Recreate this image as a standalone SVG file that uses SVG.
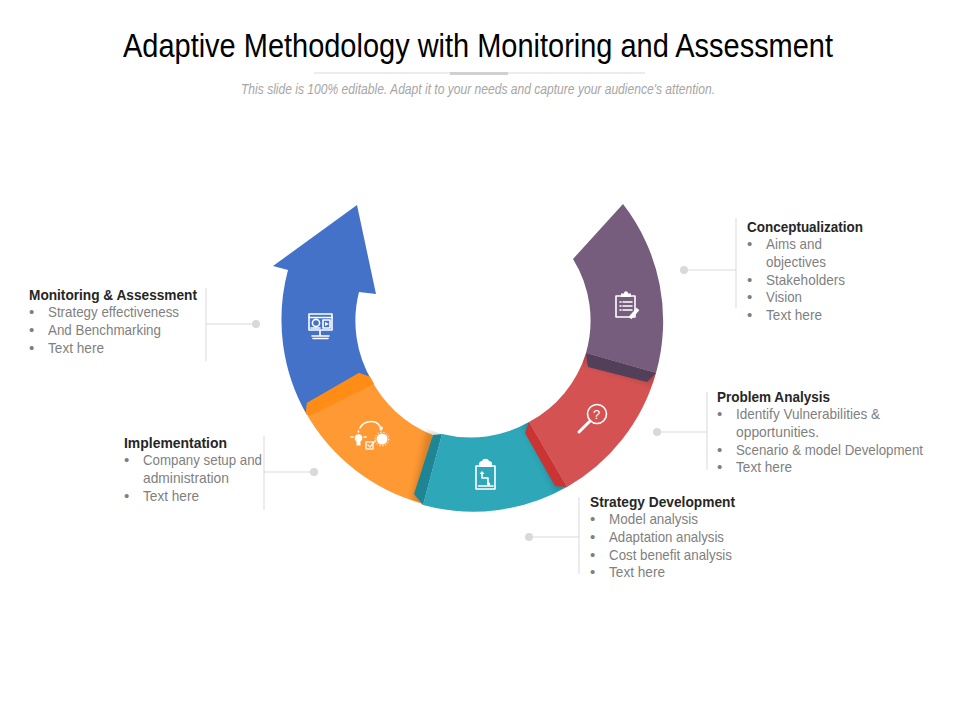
<svg xmlns="http://www.w3.org/2000/svg" width="960" height="720" viewBox="0 0 960 720">
<style>
text{font-family:"Liberation Sans",Arial,sans-serif;font-size:15px;fill:#7f7f7f}
.h{font-weight:bold;fill:#262626}
.ln{stroke:#d9d9d9;stroke-width:1;fill:none}
.dot{fill:#d9d9d9}
.ic{fill:none;stroke:#fff;stroke-width:1.6;stroke-linecap:round;stroke-linejoin:round}
.icf{fill:#fff}
.sh{fill:#000;opacity:.16;filter:url(#blur)}
</style>
<defs>
<filter id="blur" x="-30%" y="-30%" width="160%" height="160%"><feGaussianBlur stdDeviation="3"/></filter>
<clipPath id="cpRed"><path d="M586 353L656 373A191 191 0 0 1 565 487L529 422A117 117 0 0 0 586 353Z"/></clipPath>
<clipPath id="cpTeal"><path d="M442 434A117 117 0 0 0 529 422L565 487A191 191 0 0 1 423 505Z"/></clipPath>
<clipPath id="cpOrange"><path d="M370 377A117 117 0 0 0 442 434L423 505A191 191 0 0 1 306 413Z"/></clipPath>
</defs>
<rect width="960" height="720" fill="#fff"/>

<g id="header">
<text x="123" y="56.500" textLength="710" lengthAdjust="spacingAndGlyphs" style="font-size:33px;fill:#000">Adaptive Methodology with Monitoring and Assessment</text>
<line x1="314" y1="73" x2="645" y2="73" class="ln"/>
<rect x="450" y="72" width="58" height="3" fill="#d0d0d0"/>
<text x="241" y="94" textLength="474" lengthAdjust="spacingAndGlyphs" style="font-size:14.500px;font-style:italic;fill:#a6a6a6">This slide is 100% editable. Adapt it to your needs and capture your audience's attention.</text>
</g>

<g id="connectors">
<path class="ln" d="M684 270H736M736 218V308"/><circle class="dot" cx="684" cy="270" r="4"/>
<path class="ln" d="M657 432H707M707 392V470"/><circle class="dot" cx="657" cy="432" r="4"/>
<path class="ln" d="M529 537H579M579 497V574"/><circle class="dot" cx="529" cy="537" r="4"/>
<path class="ln" d="M314 472H264M264 436V510"/><circle class="dot" cx="314" cy="472" r="4"/>
<path class="ln" d="M256 324H206M206 288V361"/><circle class="dot" cx="256" cy="324" r="4"/>
</g>

<g id="node-monitoring">
<path fill="#4472c9" d="M357 205L376 294L359 292A117 117 0 0 0 372 381L307 415A191 191 0 0 1 288 270L273 266Z"/>
<g>
<rect class="ic" x="309" y="314" width="23" height="16"/>
<path class="ic" d="M309 317.500H332" stroke-width="1"/>
<circle class="ic" cx="316" cy="323" r="3.600" stroke-width="1.100"/>
<path class="ic" d="M311 328H320" stroke-width="1"/>
<rect class="ic" x="323" y="320" width="7" height="8" stroke-width="1.100"/>
<path class="icf" d="M325 322L329 324L325 326Z"/>
<path class="ic" d="M320 331V335M312 336H329M313 338.500H328"/>
</g>
</g>

<g id="node-implementation">
<path fill="#ff9933" d="M370 377A117 117 0 0 0 433 435L423 505L421 503A191 191 0 0 1 306 413L307 403L359 373Z"/>
<path fill="#ff8c14" d="M359 373L370 377L374 384L309 416L306 413L307 403Z"/>
<g clip-path="url(#cpOrange)"><path class="sh" d="M427 430L445 434L424 508L412 500Z"/></g>
<g>
<path class="ic" d="M360 428C364 420 379 418 381 430" stroke-width="1.100"/>
<path class="icf" d="M383 429L379 430L382 426Z"/>
<circle class="icf" cx="358.500" cy="438" r="3.800"/>
<rect class="icf" x="356.500" y="441" width="4" height="4.500"/>
<path class="ic" d="M351 437H353M358.500 431V432M364 437H366" stroke-width="1"/>
<circle class="icf" cx="382" cy="439" r="5.500"/>
<circle cx="382" cy="439" r="6.800" fill="none" stroke="#fff" stroke-width="1" stroke-dasharray="1.500 1.500"/>
<rect class="ic" x="366" y="442" width="7" height="7" stroke-width=".8" opacity=".8"/>
<path class="ic" d="M368 445L370 447L375 441" stroke-width=".8" opacity=".8"/>
</g>
</g>

<g id="node-strategy">
<path fill="#2ea7b8" d="M442 434A117 117 0 0 0 529 422L567 487A191 191 0 0 1 423 505Z"/>
<path fill="#1e8594" d="M433 435L442 434L423 505L414 494Z"/>
<g clip-path="url(#cpTeal)"><path class="sh" d="M521 420L535 420L572 490L556 492Z"/></g>
<g>
<rect class="ic" x="476" y="466" width="19" height="23"/>
<path class="ic" d="M478.500 486H493" stroke-width="1"/>
<path class="icf" d="M479 467V463.500C479 462 481 461 482 461C483 458 488 458 489 461C491 461 492 462 492 464V467Z"/>
<path class="ic" d="M482 473V478H488V484" stroke-width="1.200"/>
<path class="icf" d="M479.500 474L482 471L484.500 474Z"/>
<circle class="icf" cx="488.500" cy="484" r="1.700"/>
</g>
</g>

<g id="node-problem">
<path fill="#d45252" d="M586 353L656 373A191 191 0 0 1 567 487L529 422A117 117 0 0 0 586 353Z"/>
<path fill="#cc3333" d="M529 422L525 433L555 486L567 487Z"/>
<g clip-path="url(#cpRed)"><path class="sh" d="M582 350L660 372L652 384L580 362Z"/></g>
<g>
<circle class="ic" cx="597" cy="414" r="9.500"/>
<path d="M590 421L579 432" stroke="#fff" stroke-width="3" stroke-linecap="round"/>
<text x="593" y="419" style="font-size:13px;fill:#fff">?</text>
</g>
</g>

<g id="node-conceptualization">
<path fill="#765c7d" d="M623 204A191 191 0 0 1 656 373L586 353A117 117 0 0 0 573 259Z"/>
<path fill="#523f5a" d="M586 353L656 373L647 382L588 367Z"/>
<g>
<rect class="ic" x="616" y="296" width="19" height="21"/>
<path class="icf" d="M621 297V293.500H624C624 290.500 628 290.500 628 293.500H631V297Z"/>
<path class="ic" d="M620 302H621M623 302H632M620 306H621M623 306H632M620 310H621M623 310H632" stroke-width="1.200"/>
<path d="M630 318L638 309" stroke="#fff" stroke-width="3.500"/>
</g>
</g>

<g id="label-conceptualization">
<text class="h" x="747" y="232" textLength="116" lengthAdjust="spacingAndGlyphs">Conceptualization</text>
<text x="747" y="249">•</text><text x="766" y="249" textLength="56" lengthAdjust="spacingAndGlyphs">Aims and</text>
<text x="766" y="267" textLength="60" lengthAdjust="spacingAndGlyphs">objectives</text>
<text x="747" y="285">•</text><text x="766" y="285" textLength="79" lengthAdjust="spacingAndGlyphs">Stakeholders</text>
<text x="747" y="302">•</text><text x="766" y="302" textLength="36" lengthAdjust="spacingAndGlyphs">Vision</text>
<text x="747" y="320">•</text><text x="766" y="320" textLength="56" lengthAdjust="spacingAndGlyphs">Text here</text>
</g>
<g id="label-problem">
<text class="h" x="717" y="402" textLength="113" lengthAdjust="spacingAndGlyphs">Problem Analysis</text>
<text x="717" y="419">•</text><text x="736" y="419" textLength="144" lengthAdjust="spacingAndGlyphs">Identify Vulnerabilities &amp;</text>
<text x="736" y="437" textLength="83" lengthAdjust="spacingAndGlyphs">opportunities.</text>
<text x="717" y="455">•</text><text x="736" y="455" textLength="187" lengthAdjust="spacingAndGlyphs">Scenario &amp; model Development</text>
<text x="717" y="472">•</text><text x="736" y="472" textLength="56" lengthAdjust="spacingAndGlyphs">Text here</text>
</g>
<g id="label-strategy">
<text class="h" x="590" y="507" textLength="145" lengthAdjust="spacingAndGlyphs">Strategy Development</text>
<text x="590" y="524">•</text><text x="609" y="524" textLength="89" lengthAdjust="spacingAndGlyphs">Model analysis</text>
<text x="590" y="542">•</text><text x="609" y="542" textLength="115" lengthAdjust="spacingAndGlyphs">Adaptation analysis</text>
<text x="590" y="560">•</text><text x="609" y="560" textLength="123" lengthAdjust="spacingAndGlyphs">Cost benefit analysis</text>
<text x="590" y="577">•</text><text x="609" y="577" textLength="56" lengthAdjust="spacingAndGlyphs">Text here</text>
</g>
<g id="label-implementation">
<text class="h" x="124" y="448" textLength="103" lengthAdjust="spacingAndGlyphs">Implementation</text>
<text x="124" y="465">•</text><text x="143" y="465" textLength="119" lengthAdjust="spacingAndGlyphs">Company setup and</text>
<text x="143" y="483" textLength="86" lengthAdjust="spacingAndGlyphs">administration</text>
<text x="124" y="501">•</text><text x="143" y="501" textLength="56" lengthAdjust="spacingAndGlyphs">Text here</text>
</g>
<g id="label-monitoring">
<text class="h" x="29" y="300" textLength="168" lengthAdjust="spacingAndGlyphs">Monitoring &amp; Assessment</text>
<text x="29" y="317">•</text><text x="48" y="317" textLength="131" lengthAdjust="spacingAndGlyphs">Strategy effectiveness</text>
<text x="29" y="335">•</text><text x="48" y="335" textLength="113" lengthAdjust="spacingAndGlyphs">And Benchmarking</text>
<text x="29" y="353">•</text><text x="48" y="353" textLength="56" lengthAdjust="spacingAndGlyphs">Text here</text>
</g>
</svg>
